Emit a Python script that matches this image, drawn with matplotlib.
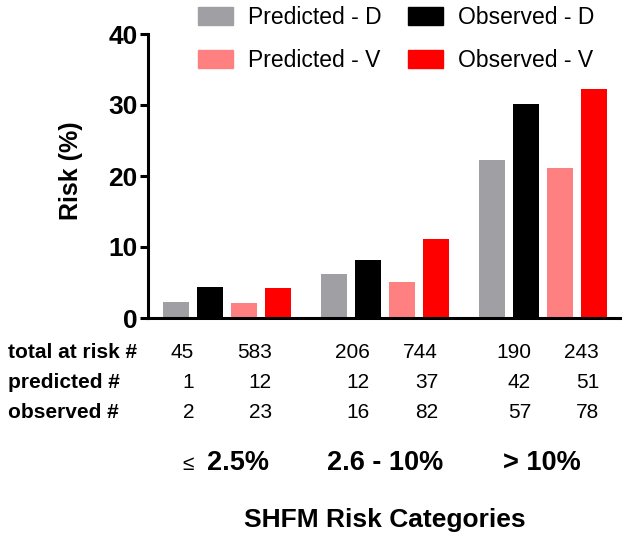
import matplotlib
matplotlib.use("Agg")
import matplotlib.pyplot as plt
from matplotlib.patches import Patch
import numpy as np

plt.rcParams['font.family'] = ['Liberation Sans', 'DejaVu Sans']

# data
categories = ["2.5%", "2.6 - 10%", "> 10%"]
series_names = ["Predicted - D", "Observed - D", "Predicted - V", "Observed - V"]
predicted_d = [2.2, 6.2, 22.2]
observed_d = [4.3, 8.1, 30.2]
predicted_v = [2.1, 5.1, 21.1]
observed_v = [4.2, 11.1, 32.2]
colors = ["#a0a0a4", "#000000", "#ff8080", "#ff0000"]

row_labels = ["total at risk #", "predicted #", "observed #"]
total_at_risk = [45, 583, 206, 744, 190, 243]
predicted_n = [1, 12, 12, 37, 42, 51]
observed_n = [2, 23, 16, 82, 57, 78]

W, H = 629, 543
fig = plt.figure(figsize=(W / 100, H / 100), dpi=100)
ax = fig.add_axes([148 / W, 1 - 318 / H, 472 / W, 284 / H])

group_gap = 4.65
bar_w = 0.77
series = [predicted_d, observed_d, predicted_v, observed_v]
for i, vals in enumerate(series):
    xs = np.arange(len(categories)) * group_gap + i
    ax.bar(xs, vals, width=bar_w, color=colors[i], label=series_names[i])

ax.set_xlim(-0.82, 13.06)
ax.set_ylim(0, 40)
ax.set_yticks([0, 10, 20, 30, 40])
ax.set_xticks([])
for s in ["top", "right"]:
    ax.spines[s].set_visible(False)
for s in ["left", "bottom"]:
    ax.spines[s].set_linewidth(2.2)
ax.tick_params(axis='y', length=6, width=2.2, pad=1.5, labelsize=19)
for lab in ax.get_yticklabels():
    lab.set_fontweight('bold')
ax.set_ylabel("Risk (%)", fontsize=18, fontweight='bold', labelpad=10)
ax.yaxis.set_label_coords(-65 / 472, 0.52)

# legend
handles = [Patch(color=colors[k]) for k in [0, 2, 1, 3]]
labels = [series_names[k] for k in [0, 2, 1, 3]]
fig.legend(handles, labels, ncol=2, loc='upper left',
           bbox_to_anchor=(198 / W, 1 - 6 / H), frameon=False,
           fontsize=16.5, handlelength=1.52, handleheight=0.83,
           handletextpad=0.65, columnspacing=1.17, labelspacing=0.88,
           borderpad=0, borderaxespad=0)

# table under the chart
col_x = [194, 272, 370, 438, 531, 599]
row_y = [352, 382, 412]
rows = [total_at_risk, predicted_n, observed_n]
for r, (lab, vals) in enumerate(zip(row_labels, rows)):
    fig.text(8 / W, 1 - row_y[r] / H, lab, fontsize=15, fontweight='bold',
             ha='left', va='center')
    for c, v in enumerate(vals):
        fig.text(col_x[c] / W, 1 - row_y[r] / H, str(v), fontsize=15,
                 ha='right', va='center')

cat_x = [238, 385, 542]
for cx, cat in zip(cat_x, categories):
    fig.text(cx / W, 1 - 463 / H, cat, fontsize=19.5, fontweight='bold',
             ha='center', va='center')
fig.text(194 / W, 1 - 464 / H, "\u2264", fontsize=15, ha='right', va='center')

fig.text(385 / W, 1 - 520 / H, "SHFM Risk Categories", fontsize=19,
         fontweight='bold', ha='center', va='center')

fig.savefig("out.png", dpi=100)
